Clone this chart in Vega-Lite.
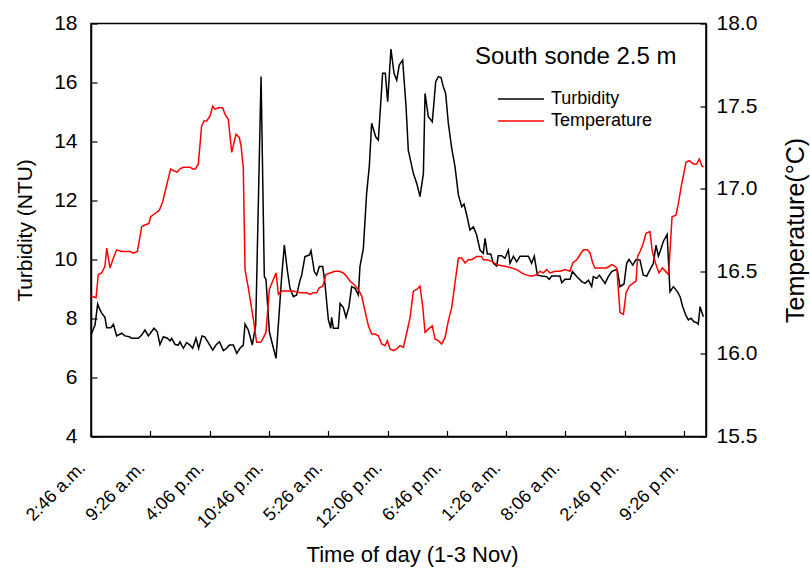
{
  "$schema": "https://vega.github.io/schema/vega-lite/v6.json",
  "width": 615,
  "height": 413,
  "autosize": {"type": "none"},
  "padding": {"left": 91, "top": 23.5, "right": 104, "bottom": 135.5},
  "background": "white",
  "config": {
    "font": "Liberation Sans",
    "view": {"stroke": "black", "strokeWidth": 1.5},
    "axis": {
      "grid": false,
      "domainColor": "black",
      "domainWidth": 1.5,
      "tickColor": "black",
      "tickWidth": 1.2,
      "tickSize": -6,
      "labelColor": "black",
      "titleColor": "black",
      "titleFontWeight": "normal",
      "labelFont": "Liberation Sans",
      "titleFont": "Liberation Sans"
    },
    "legend": {
      "labelFont": "Liberation Sans",
      "titleFont": "Liberation Sans"
    }
  },
  "datasets": {
    "turbidity": [
      {"t":0,"NTU":7.44},{"t":27,"NTU":7.78},{"t":45,"NTU":8.49},{"t":61,"NTU":8.29},{"t":72,"NTU":8.18},{"t":94,"NTU":8.04},{"t":106,"NTU":7.69},{"t":133,"NTU":7.69},{"t":151,"NTU":7.8},{"t":173,"NTU":7.41},{"t":207,"NTU":7.5},{"t":229,"NTU":7.41},{"t":259,"NTU":7.38},{"t":274,"NTU":7.33},{"t":319,"NTU":7.33},{"t":342,"NTU":7.44},{"t":364,"NTU":7.61},{"t":387,"NTU":7.41},{"t":425,"NTU":7.67},{"t":447,"NTU":7.55},{"t":465,"NTU":7.12},{"t":488,"NTU":7.38},{"t":515,"NTU":7.33},{"t":533,"NTU":7.24},{"t":544,"NTU":7.33},{"t":567,"NTU":7.12},{"t":589,"NTU":7.1},{"t":600,"NTU":7.21},{"t":623,"NTU":6.99},{"t":645,"NTU":7.18},{"t":668,"NTU":7.1},{"t":686,"NTU":6.99},{"t":708,"NTU":7.33},{"t":726,"NTU":6.99},{"t":749,"NTU":7.41},{"t":767,"NTU":7.38},{"t":791,"NTU":7.18},{"t":821,"NTU":6.93},{"t":843,"NTU":7.1},{"t":866,"NTU":7.21},{"t":893,"NTU":6.91},{"t":915,"NTU":6.99},{"t":933,"NTU":7.1},{"t":960,"NTU":7.1},{"t":983,"NTU":6.82},{"t":1005,"NTU":6.99},{"t":1027,"NTU":7.1},{"t":1039,"NTU":7.81},{"t":1061,"NTU":7.61},{"t":1088,"NTU":7.1},{"t":1111,"NTU":7.78},{"t":1147,"NTU":16.2},{"t":1169,"NTU":9.42},{"t":1180,"NTU":9.33},{"t":1203,"NTU":7.55},{"t":1225,"NTU":7.1},{"t":1248,"NTU":6.65},{"t":1286,"NTU":9.42},{"t":1304,"NTU":10.49},{"t":1324,"NTU":9.64},{"t":1342,"NTU":9.02},{"t":1365,"NTU":8.74},{"t":1387,"NTU":8.8},{"t":1410,"NTU":9.3},{"t":1421,"NTU":9.47},{"t":1443,"NTU":10.1},{"t":1473,"NTU":10.15},{"t":1484,"NTU":10.3},{"t":1506,"NTU":9.59},{"t":1522,"NTU":9.47},{"t":1540,"NTU":9.76},{"t":1563,"NTU":9.76},{"t":1578,"NTU":9.19},{"t":1601,"NTU":7.95},{"t":1617,"NTU":7.67},{"t":1623,"NTU":8.04},{"t":1635,"NTU":7.67},{"t":1668,"NTU":7.67},{"t":1680,"NTU":8.51},{"t":1702,"NTU":8.37},{"t":1720,"NTU":8.04},{"t":1740,"NTU":8.4},{"t":1758,"NTU":9.08},{"t":1781,"NTU":9.02},{"t":1803,"NTU":8.8},{"t":1814,"NTU":9.76},{"t":1837,"NTU":10.38},{"t":1859,"NTU":12.24},{"t":1877,"NTU":13.15},{"t":1893,"NTU":14.62},{"t":1920,"NTU":14.16},{"t":1938,"NTU":14.05},{"t":1967,"NTU":16.31},{"t":1985,"NTU":16.31},{"t":2001,"NTU":15.35},{"t":2023,"NTU":17.13},{"t":2044,"NTU":16.31},{"t":2062,"NTU":16.08},{"t":2079,"NTU":16.59},{"t":2102,"NTU":16.76},{"t":2125,"NTU":15.18},{"t":2140,"NTU":13.71},{"t":2174,"NTU":12.92},{"t":2197,"NTU":12.58},{"t":2219,"NTU":12.13},{"t":2242,"NTU":12.92},{"t":2253,"NTU":15.63},{"t":2275,"NTU":14.84},{"t":2302,"NTU":14.67},{"t":2325,"NTU":16.03},{"t":2343,"NTU":16.2},{"t":2361,"NTU":16.17},{"t":2376,"NTU":15.86},{"t":2392,"NTU":15.63},{"t":2410,"NTU":14.62},{"t":2433,"NTU":13.77},{"t":2455,"NTU":13.15},{"t":2478,"NTU":12.19},{"t":2500,"NTU":11.79},{"t":2516,"NTU":11.88},{"t":2534,"NTU":11.51},{"t":2556,"NTU":11.0},{"t":2579,"NTU":11.11},{"t":2601,"NTU":10.83},{"t":2624,"NTU":10.32},{"t":2646,"NTU":10.21},{"t":2658,"NTU":10.72},{"t":2673,"NTU":10.19},{"t":2696,"NTU":10.19},{"t":2714,"NTU":9.87},{"t":2736,"NTU":9.78},{"t":2747,"NTU":10.13},{"t":2770,"NTU":10.13},{"t":2792,"NTU":10.04},{"t":2815,"NTU":10.32},{"t":2826,"NTU":9.87},{"t":2849,"NTU":10.11},{"t":2871,"NTU":9.92},{"t":2894,"NTU":10.11},{"t":2950,"NTU":10.11},{"t":2972,"NTU":9.87},{"t":2990,"NTU":10.11},{"t":3011,"NTU":9.47},{"t":3040,"NTU":9.44},{"t":3073,"NTU":9.42},{"t":3091,"NTU":9.33},{"t":3107,"NTU":9.44},{"t":3163,"NTU":9.44},{"t":3175,"NTU":9.21},{"t":3197,"NTU":9.33},{"t":3231,"NTU":9.33},{"t":3247,"NTU":9.59},{"t":3276,"NTU":9.42},{"t":3310,"NTU":9.25},{"t":3332,"NTU":9.19},{"t":3355,"NTU":9.3},{"t":3377,"NTU":9.08},{"t":3388,"NTU":9.42},{"t":3411,"NTU":9.36},{"t":3429,"NTU":9.47},{"t":3467,"NTU":9.19},{"t":3489,"NTU":9.42},{"t":3512,"NTU":9.59},{"t":3534,"NTU":9.64},{"t":3550,"NTU":9.64},{"t":3568,"NTU":9.08},{"t":3595,"NTU":9.17},{"t":3613,"NTU":9.87},{"t":3629,"NTU":10.0},{"t":3654,"NTU":9.81},{"t":3676,"NTU":10.0},{"t":3703,"NTU":9.98},{"t":3725,"NTU":9.47},{"t":3748,"NTU":9.44},{"t":3775,"NTU":9.7},{"t":3793,"NTU":9.87},{"t":3811,"NTU":10.49},{"t":3827,"NTU":10.11},{"t":3842,"NTU":10.32},{"t":3860,"NTU":10.61},{"t":3886,"NTU":10.85},{"t":3905,"NTU":8.91},{"t":3928,"NTU":9.08},{"t":3955,"NTU":8.91},{"t":3973,"NTU":8.74},{"t":3991,"NTU":8.4},{"t":4011,"NTU":8.12},{"t":4029,"NTU":7.95},{"t":4047,"NTU":8.01},{"t":4067,"NTU":7.89},{"t":4085,"NTU":7.86},{"t":4096,"NTU":7.81},{"t":4108,"NTU":8.4},{"t":4119,"NTU":8.23},{"t":4130,"NTU":8.06}
    ],
    "temperature": [
      {"t":0,"C":16.35},{"t":34,"C":16.34},{"t":49,"C":16.48},{"t":72,"C":16.49},{"t":94,"C":16.53},{"t":106,"C":16.64},{"t":128,"C":16.52},{"t":151,"C":16.58},{"t":173,"C":16.63},{"t":207,"C":16.62},{"t":263,"C":16.62},{"t":286,"C":16.61},{"t":313,"C":16.62},{"t":342,"C":16.77},{"t":364,"C":16.78},{"t":391,"C":16.79},{"t":402,"C":16.83},{"t":432,"C":16.85},{"t":461,"C":16.87},{"t":483,"C":16.92},{"t":510,"C":17.02},{"t":537,"C":17.12},{"t":555,"C":17.11},{"t":582,"C":17.1},{"t":600,"C":17.12},{"t":623,"C":17.13},{"t":668,"C":17.13},{"t":686,"C":17.12},{"t":704,"C":17.12},{"t":724,"C":17.15},{"t":746,"C":17.38},{"t":762,"C":17.41},{"t":780,"C":17.41},{"t":803,"C":17.44},{"t":821,"C":17.5},{"t":836,"C":17.48},{"t":859,"C":17.49},{"t":888,"C":17.49},{"t":904,"C":17.45},{"t":926,"C":17.42},{"t":949,"C":17.22},{"t":978,"C":17.33},{"t":1000,"C":17.31},{"t":1012,"C":17.26},{"t":1027,"C":17.13},{"t":1039,"C":16.51},{"t":1061,"C":16.4},{"t":1095,"C":16.21},{"t":1117,"C":16.07},{"t":1144,"C":16.07},{"t":1158,"C":16.09},{"t":1180,"C":16.13},{"t":1203,"C":16.39},{"t":1225,"C":16.44},{"t":1248,"C":16.49},{"t":1264,"C":16.36},{"t":1286,"C":16.38},{"t":1320,"C":16.38},{"t":1365,"C":16.38},{"t":1410,"C":16.37},{"t":1432,"C":16.37},{"t":1455,"C":16.37},{"t":1477,"C":16.36},{"t":1500,"C":16.37},{"t":1522,"C":16.37},{"t":1540,"C":16.4},{"t":1563,"C":16.41},{"t":1585,"C":16.48},{"t":1612,"C":16.49},{"t":1646,"C":16.5},{"t":1675,"C":16.5},{"t":1702,"C":16.49},{"t":1724,"C":16.47},{"t":1747,"C":16.44},{"t":1774,"C":16.42},{"t":1803,"C":16.39},{"t":1826,"C":16.35},{"t":1848,"C":16.26},{"t":1871,"C":16.17},{"t":1893,"C":16.12},{"t":1916,"C":16.12},{"t":1938,"C":16.11},{"t":1961,"C":16.06},{"t":1983,"C":16.05},{"t":1999,"C":16.08},{"t":2017,"C":16.03},{"t":2039,"C":16.02},{"t":2062,"C":16.03},{"t":2084,"C":16.05},{"t":2107,"C":16.04},{"t":2125,"C":16.11},{"t":2152,"C":16.22},{"t":2174,"C":16.38},{"t":2197,"C":16.39},{"t":2219,"C":16.41},{"t":2237,"C":16.29},{"t":2253,"C":16.13},{"t":2275,"C":16.15},{"t":2302,"C":16.17},{"t":2320,"C":16.09},{"t":2343,"C":16.08},{"t":2365,"C":16.06},{"t":2388,"C":16.1},{"t":2410,"C":16.2},{"t":2433,"C":16.28},{"t":2455,"C":16.43},{"t":2478,"C":16.58},{"t":2500,"C":16.58},{"t":2523,"C":16.55},{"t":2545,"C":16.57},{"t":2568,"C":16.57},{"t":2601,"C":16.59},{"t":2635,"C":16.59},{"t":2646,"C":16.57},{"t":2669,"C":16.57},{"t":2703,"C":16.56},{"t":2736,"C":16.54},{"t":2792,"C":16.53},{"t":2837,"C":16.52},{"t":2871,"C":16.51},{"t":2905,"C":16.49},{"t":2927,"C":16.48},{"t":2972,"C":16.47},{"t":3006,"C":16.48},{"t":3029,"C":16.5},{"t":3051,"C":16.49},{"t":3073,"C":16.51},{"t":3096,"C":16.49},{"t":3130,"C":16.5},{"t":3163,"C":16.5},{"t":3197,"C":16.51},{"t":3231,"C":16.5},{"t":3249,"C":16.55},{"t":3276,"C":16.57},{"t":3298,"C":16.6},{"t":3321,"C":16.63},{"t":3348,"C":16.63},{"t":3366,"C":16.61},{"t":3384,"C":16.55},{"t":3400,"C":16.52},{"t":3433,"C":16.52},{"t":3478,"C":16.52},{"t":3512,"C":16.54},{"t":3534,"C":16.53},{"t":3546,"C":16.52},{"t":3568,"C":16.25},{"t":3591,"C":16.24},{"t":3609,"C":16.37},{"t":3631,"C":16.41},{"t":3658,"C":16.43},{"t":3676,"C":16.44},{"t":3687,"C":16.59},{"t":3703,"C":16.62},{"t":3725,"C":16.67},{"t":3743,"C":16.73},{"t":3770,"C":16.74},{"t":3786,"C":16.62},{"t":3807,"C":16.55},{"t":3831,"C":16.49},{"t":3854,"C":16.52},{"t":3896,"C":16.48},{"t":3919,"C":16.83},{"t":3945,"C":16.84},{"t":3960,"C":16.9},{"t":3980,"C":17.01},{"t":3998,"C":17.09},{"t":4013,"C":17.16},{"t":4036,"C":17.17},{"t":4063,"C":17.15},{"t":4085,"C":17.15},{"t":4103,"C":17.18},{"t":4119,"C":17.14},{"t":4130,"C":17.13}
    ]
  },
  "layer": [
    {
      "data": {"name": "turbidity"},
      "mark": {"type": "line", "strokeWidth": 1.5, "interpolate": "linear"},
      "encoding": {
        "x": {
          "field": "t",
          "type": "quantitative",
          "scale": {"domain": [0, 4148], "nice": false, "zero": false},
          "axis": {
            "values": [0,200,400,600,800,1000,1200,1400,1600,1800,2000,2200,2400,2600,2800,3000,3200,3400,3600,3800,4000],
            "labelExpr": "datum.value % 400 == 0 ? ['2:46 a.m.','9:26 a.m.','4:06 p.m.','10:46 p.m.','5:26 a.m.','12:06 p.m.','6:46 p.m.','1:26 a.m.','8:06 a.m.','2:46 p.m.','9:26 p.m.'][datum.value / 400] : ''",
            "labelAngle": -45,
            "labelAlign": "right",
            "labelBaseline": "top",
            "labelFontSize": 18,
            "labelPadding": 28,
            "labelOffset": -15,
            "labelOverlap": false,
            "labelFlush": false,
            "labelBound": false,
            "title": "Time of day (1-3 Nov)",
            "titleFontSize": 22,
            "titleX": 321,
            "titleY": 125,
            "titleAlign": "center",
            "titleBaseline": "alphabetic"
          }
        },
        "y": {
          "field": "NTU",
          "type": "quantitative",
          "scale": {"domain": [4, 18], "nice": false, "zero": false},
          "axis": {
            "values": [4,6,8,10,12,14,16,18],
            "labelFontSize": 21,
            "labelPadding": 20,
            "title": "Turbidity (NTU)",
            "titleFontSize": 21,
            "titleAngle": 270,
            "titleX": -66,
            "titleY": 206.5,
            "titleAlign": "center",
            "titleBaseline": "middle"
          }
        },
        "color": {
          "datum": "Turbidity",
          "type": "nominal",
          "scale": {"domain": ["Turbidity", "Temperature"], "range": ["#000000", "#ff0000"]},
          "legend": {
            "orient": "none",
            "legendX": 384,
            "legendY": 21,
            "direction": "vertical",
            "title": "South sonde 2.5 m",
            "titleLimit": 0,
            "titleFontSize": 24,
            "titleFontWeight": "normal",
            "titleColor": "black",
            "titlePadding": 18,
            "labelFontSize": 18,
            "labelColor": "black",
            "labelLimit": 0,
            "symbolType": "M-2,0H2",
            "symbolSize": 529,
            "symbolStrokeWidth": 1.5,
            "symbolFillColor": "transparent",
            "symbolOffset": 33.5,
            "rowPadding": 0,
            "labelOffset": 17.5,
            "padding": 0
          }
        }
      }
    },
    {
      "data": {"name": "temperature"},
      "mark": {"type": "line", "strokeWidth": 1.5, "interpolate": "linear"},
      "encoding": {
        "x": {"field": "t", "type": "quantitative"},
        "y": {
          "field": "C",
          "type": "quantitative",
          "scale": {"domain": [15.5, 18], "nice": false, "zero": false},
          "axis": {
            "orient": "right",
            "values": [15.5,16,16.5,17,17.5,18],
            "format": ".1f",
            "labelFontSize": 21,
            "labelPadding": 16,
            "title": "Temperature(°C)",
            "titleFontSize": 25,
            "titleAngle": 270,
            "titleX": 89,
            "titleY": 206.5,
            "titleAlign": "center",
            "titleBaseline": "middle"
          }
        },
        "color": {"datum": "Temperature", "type": "nominal"}
      }
    }
  ],
  "resolve": {"scale": {"y": "independent"}}
}
